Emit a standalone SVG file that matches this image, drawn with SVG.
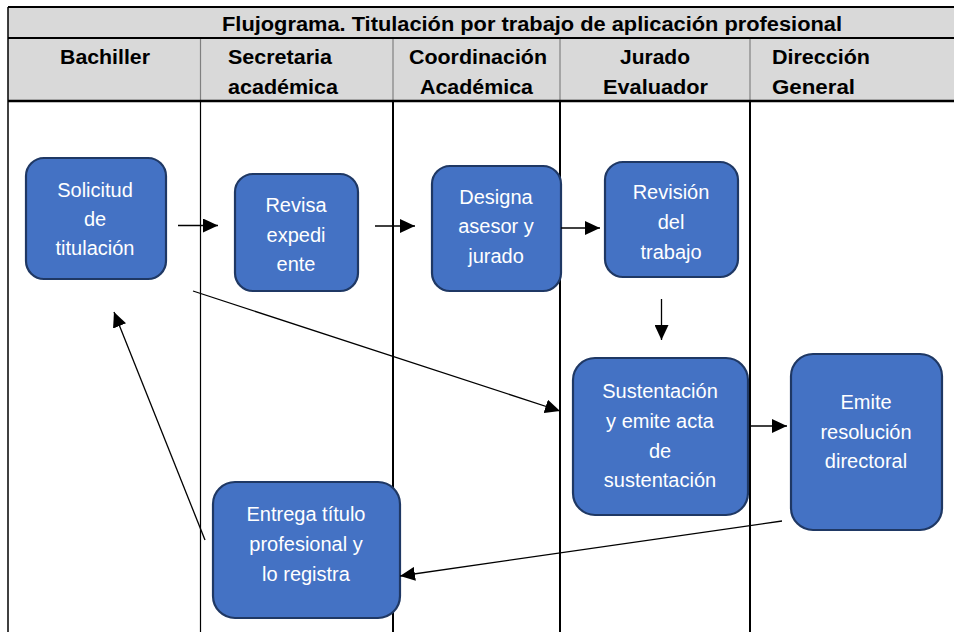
<svg xmlns="http://www.w3.org/2000/svg" width="954" height="632" viewBox="0 0 954 632">
<style>
.hdr{font-family:"Liberation Sans",Arial,sans-serif;font-weight:bold;font-size:20px;fill:#000}
.nd rect{fill:#4472c4;stroke:#1f3864;stroke-width:2.2}
.nd text{font-family:"Liberation Sans",Arial,sans-serif;font-size:20px;fill:#fff;text-anchor:middle}
.cn line{stroke:#000;stroke-width:1.3;fill:none}
</style>
<defs>
<marker id="ah" markerUnits="userSpaceOnUse" markerWidth="16" markerHeight="14" refX="15" refY="7" orient="auto">
<path d="M0,0 L15,7 L0,14 z" fill="#000"/>
</marker>
</defs>
<rect width="954" height="632" fill="#fff"/>
<g id="table">
<rect x="8" y="7" width="950" height="94" fill="#d9d9d9"/>
<g stroke="#808080" stroke-width="1.2">
<line x1="200.5" y1="38" x2="200.5" y2="101"/>
<line x1="393" y1="38" x2="393" y2="101"/>
<line x1="560" y1="38" x2="560" y2="101"/>
<line x1="750" y1="38" x2="750" y2="101"/>
</g>
<g stroke="#000">
<line x1="8" y1="7" x2="954" y2="7" stroke-width="2"/>
<line x1="8" y1="38" x2="954" y2="38" stroke-width="2"/>
<line x1="8" y1="101" x2="954" y2="101" stroke-width="2.5"/>
<line x1="8" y1="7" x2="8" y2="632" stroke-width="1.5"/>
<line x1="200.5" y1="101" x2="200.5" y2="632" stroke-width="1.2"/>
<line x1="393" y1="101" x2="393" y2="632" stroke-width="2"/>
<line x1="560" y1="101" x2="560" y2="632" stroke-width="2"/>
<line x1="750" y1="101" x2="750" y2="632" stroke-width="2"/>
</g>
<text class="hdr" x="222" y="31" textLength="620" lengthAdjust="spacingAndGlyphs">Flujograma. Titulación por trabajo de aplicación profesional</text>
<text class="hdr" x="60" y="64" textLength="90" lengthAdjust="spacingAndGlyphs">Bachiller</text>
<text class="hdr" x="228" y="64" textLength="104" lengthAdjust="spacingAndGlyphs">Secretaria</text>
<text class="hdr" x="228" y="94" textLength="110" lengthAdjust="spacingAndGlyphs">académica</text>
<text class="hdr" x="409" y="64" textLength="138" lengthAdjust="spacingAndGlyphs">Coordinación</text>
<text class="hdr" x="420" y="94" textLength="113" lengthAdjust="spacingAndGlyphs">Académica</text>
<text class="hdr" x="620" y="64" textLength="70" lengthAdjust="spacingAndGlyphs">Jurado</text>
<text class="hdr" x="603" y="94" textLength="105" lengthAdjust="spacingAndGlyphs">Evaluador</text>
<text class="hdr" x="772" y="64" textLength="98" lengthAdjust="spacingAndGlyphs">Dirección</text>
<text class="hdr" x="772" y="94" textLength="83" lengthAdjust="spacingAndGlyphs">General</text>
</g>
<g id="n1" class="nd"><rect x="26" y="158" width="140" height="121" rx="18"/>
<text x="95" y="197">Solicitud</text><text x="95" y="226">de</text><text x="95" y="255">titulación</text></g>
<g id="n2" class="nd"><rect x="235" y="174" width="123" height="117" rx="18"/>
<text x="296" y="212">Revisa</text><text x="296" y="242">expedi</text><text x="296" y="271">ente</text></g>
<g id="n3" class="nd"><rect x="432" y="166" width="129" height="125" rx="18"/>
<text x="496" y="204">Designa</text><text x="496" y="233">asesor y</text><text x="496" y="263">jurado</text></g>
<g id="n4" class="nd"><rect x="605" y="162" width="133" height="115" rx="18"/>
<text x="671" y="199">Revisión</text><text x="671" y="229">del</text><text x="671" y="259">trabajo</text></g>
<g id="n5" class="nd"><rect x="573" y="358" width="175" height="157" rx="22"/>
<text x="660" y="398">Sustentación</text><text x="660" y="428">y emite acta</text><text x="660" y="458">de</text><text x="660" y="487">sustentación</text></g>
<g id="n6" class="nd"><rect x="791" y="354" width="151" height="176" rx="22"/>
<text x="866" y="409">Emite</text><text x="866" y="439">resolución</text><text x="866" y="468">directoral</text></g>
<g id="n7" class="nd"><rect x="213" y="482" width="187" height="136" rx="22"/>
<text x="306" y="521">Entrega título</text><text x="306" y="551">profesional y</text><text x="306" y="581">lo registra</text></g>
<g id="connectors" class="cn">
<line x1="178" y1="225.5" x2="218" y2="225.5" marker-end="url(#ah)"/>
<line x1="375" y1="226" x2="415" y2="226" marker-end="url(#ah)"/>
<line x1="561" y1="228" x2="600" y2="228" marker-end="url(#ah)"/>
<line x1="661.5" y1="299" x2="661.5" y2="340" marker-end="url(#ah)"/>
<line x1="193" y1="291" x2="560" y2="411" marker-end="url(#ah)"/>
<line x1="750" y1="426" x2="787" y2="426" marker-end="url(#ah)"/>
<line x1="782" y1="521" x2="400" y2="576" marker-end="url(#ah)"/>
<line x1="205" y1="540" x2="114" y2="312" marker-end="url(#ah)"/>
</g>
</svg>
